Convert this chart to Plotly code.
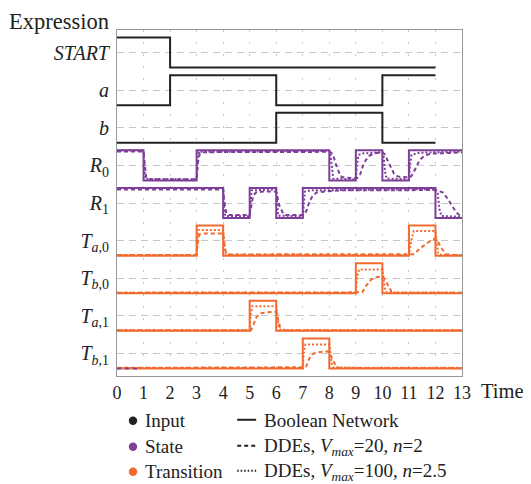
import plotly.graph_objects as go

# ---------------- data ----------------
row_labels = ["<i>T</i><sub><i>b</i>,1</sub>", "<i>T</i><sub><i>a</i>,1</sub>",
              "<i>T</i><sub><i>b</i>,0</sub>", "<i>T</i><sub><i>a</i>,0</sub>",
              "<i>R</i><sub>1</sub>", "<i>R</i><sub>0</sub>",
              "<i>b</i>", "<i>a</i>", "<i>START</i>"]
x_ticks = list(range(0, 14))

# Boolean network (step signals: change times and levels 0/1)
bool_START_t = [0, 2, 12];                 bool_START_v = [1, 0, 0]
bool_a_t = [0, 2, 6, 10, 12];              bool_a_v = [0, 1, 0, 1, 1]
bool_b_t = [0, 6, 10, 12];                 bool_b_v = [0, 1, 0, 0]
bool_R0_t = [0, 1, 3, 8, 9, 10, 11, 13];   bool_R0_v = [1, 0, 1, 0, 1, 0, 1, 1]
bool_R1_t = [0, 4, 5, 6, 7, 12, 13];       bool_R1_v = [1, 0, 1, 0, 1, 0, 0]
bool_Ta0_t = [0, 3, 4, 11, 12, 13];        bool_Ta0_v = [0, 1, 0, 1, 0, 0]
bool_Tb0_t = [0, 9, 10, 13];               bool_Tb0_v = [0, 1, 0, 0]
bool_Ta1_t = [0, 5, 6, 13];                bool_Ta1_v = [0, 1, 0, 0]
bool_Tb1_t = [0, 7, 8, 13];                bool_Tb1_v = [0, 1, 0, 0]

# DDEs, Vmax=20, n=2 (dashed)
d20_R0_t = [0, 1.0, 1.05, 1.1, 1.2, 3.0, 3.05, 3.12, 3.3, 8.0, 8.08, 8.15, 8.24, 8.33, 8.42, 8.58, 9.05,
            9.15, 9.25, 9.37, 9.52, 9.77, 10.0, 10.08, 10.17, 10.3, 10.44, 10.59, 11.05, 11.15, 11.28,
            11.4, 11.59, 11.84, 13]
d20_R0_v = [0.96, 0.96, 0.5, 0.1, 0.04, 0.04, 0.6, 0.9, 0.94, 0.95, 0.92, 0.83, 0.56, 0.31, 0.14, 0.09, 0.08,
            0.17, 0.44, 0.67, 0.83, 0.91, 0.93, 0.88, 0.72, 0.44, 0.22, 0.13, 0.1, 0.22, 0.44,
            0.67, 0.83, 0.89, 0.93]
d20_R1_t = [0, 4.0, 4.05, 4.12, 4.25, 5.0, 5.05, 5.13, 5.24, 5.5, 6.0, 6.05, 6.12, 6.24, 6.35, 7.0, 7.05,
            7.14, 7.24, 7.37, 7.52, 7.9, 8.5, 12.0, 12.1, 12.28, 12.47, 12.63, 12.78, 12.9, 13]
d20_R1_v = [0.95, 0.95, 0.5, 0.15, 0.1, 0.1, 0.35, 0.74, 0.85, 0.88, 0.88, 0.7, 0.41, 0.19, 0.1, 0.1, 0.12,
            0.24, 0.52, 0.74, 0.85, 0.89, 0.92, 0.93, 0.91, 0.85, 0.63, 0.41, 0.19, 0.1, 0.08]
d20_Ta0_t = [0, 3.0, 3.04, 3.1, 3.25, 4.0, 4.04, 4.08, 4.15, 11.1, 11.2, 11.4, 11.68, 11.84, 12.0, 12.08,
             12.2, 12.4, 12.6, 13]
d20_Ta0_v = [0.02, 0.02, 0.4, 0.7, 0.74, 0.74, 0.4, 0.18, 0.04, 0.03, 0.05, 0.23, 0.42, 0.51, 0.57, 0.5,
             0.28, 0.05, 0.02, 0.02]
d20_Tb0_t = [0, 9.15, 9.24, 9.4, 9.58, 9.77, 10.0, 10.08, 10.2, 10.34, 10.5, 13]
d20_Tb0_v = [0.02, 0.02, 0.03, 0.26, 0.46, 0.53, 0.56, 0.48, 0.26, 0.06, 0.02, 0.02]
d20_Ta1_t = [0, 5.05, 5.16, 5.26, 5.39, 5.7, 6.0, 6.08, 6.14, 6.3, 13]
d20_Ta1_v = [0.02, 0.02, 0.25, 0.47, 0.58, 0.62, 0.63, 0.36, 0.13, 0.02, 0.02]
d20_Tb1_t = [0, 7.05, 7.12, 7.24, 7.39, 7.58, 7.95, 8.02, 8.14, 8.27, 8.4, 13]
d20_Tb1_v = [0.02, 0.02, 0.04, 0.32, 0.49, 0.54, 0.57, 0.5, 0.27, 0.04, 0.02, 0.02]

# DDEs, Vmax=100, n=2.5 (dotted)
d100_R0_t = [0, 1.0, 1.04, 1.08, 3.0, 3.03, 3.07, 8.0, 8.04, 8.1, 8.15, 9.0, 9.04, 9.1, 9.3, 10.0, 10.04,
             10.1, 10.16, 11.0, 11.04, 11.1, 11.4, 13]
d100_R0_v = [1.0, 1.0, 0.3, 0.05, 0.03, 0.7, 0.95, 0.98, 0.9, 0.3, 0.06, 0.04, 0.5, 0.85, 0.9, 0.94, 0.85,
             0.3, 0.06, 0.04, 0.5, 0.85, 0.92, 0.96]
d100_R1_t = [0, 4.0, 4.04, 4.08, 5.0, 5.03, 5.07, 6.0, 6.03, 6.07, 7.0, 7.04, 7.08, 7.3, 12.0, 12.08,
             12.15, 12.22, 13]
d100_R1_v = [1.0, 1.0, 0.3, 0.07, 0.06, 0.6, 0.92, 0.95, 0.5, 0.08, 0.06, 0.6, 0.88, 0.92, 0.96, 0.85,
             0.3, 0.07, 0.04]
d100_Ta0_t = [0, 3.0, 3.03, 3.07, 4.0, 4.03, 4.08, 4.12, 11.0, 11.09, 11.18, 12.0, 12.05, 12.1, 12.16, 13]
d100_Ta0_v = [0.02, 0.02, 0.6, 0.85, 0.85, 0.5, 0.1, 0.03, 0.02, 0.5, 0.82, 0.82, 0.5, 0.1, 0.03, 0.02]
d100_Tb0_t = [0, 9.0, 9.04, 9.12, 10.0, 10.04, 10.1, 10.16, 13]
d100_Tb0_v = [0.02, 0.02, 0.5, 0.79, 0.79, 0.5, 0.1, 0.03, 0.02]
d100_Ta1_t = [0, 5.0, 5.03, 5.1, 6.0, 6.04, 6.1, 6.16, 13]
d100_Ta1_v = [0.02, 0.02, 0.5, 0.82, 0.82, 0.5, 0.1, 0.03, 0.02]
d100_Tb1_t = [0, 7.0, 7.03, 7.1, 8.0, 8.04, 8.1, 8.16, 13]
d100_Tb1_v = [0.02, 0.02, 0.5, 0.8, 0.8, 0.5, 0.1, 0.03, 0.02]

# short purple dashed remnant visible at the bottom-left
stray_t = [0, 0.85]; stray_v = [0, 0]

# ---------------- styling ----------------
BLACK = "#222222"
PURPLE = "#7E3F98"
ORANGE = "#F26A2E"
FONT = "Liberation Serif"
AMP = 0.8  # height of a 0->1 step, in row units


def lvl(row, vals):
    return [row - AMP / 2 + AMP * v for v in vals]


fig = go.Figure()

rows = {
    "START": 8, "a": 7, "b": 6, "R0": 5, "R1": 4, "Ta0": 3, "Tb0": 2, "Ta1": 1, "Tb1": 0,
}
bool_data = {
    "START": (bool_START_t, bool_START_v, BLACK), "a": (bool_a_t, bool_a_v, BLACK),
    "b": (bool_b_t, bool_b_v, BLACK), "R0": (bool_R0_t, bool_R0_v, PURPLE),
    "R1": (bool_R1_t, bool_R1_v, PURPLE), "Ta0": (bool_Ta0_t, bool_Ta0_v, ORANGE),
    "Tb0": (bool_Tb0_t, bool_Tb0_v, ORANGE), "Ta1": (bool_Ta1_t, bool_Ta1_v, ORANGE),
    "Tb1": (bool_Tb1_t, bool_Tb1_v, ORANGE),
}
d20_data = {
    "R0": (d20_R0_t, d20_R0_v, PURPLE), "R1": (d20_R1_t, d20_R1_v, PURPLE),
    "Ta0": (d20_Ta0_t, d20_Ta0_v, ORANGE), "Tb0": (d20_Tb0_t, d20_Tb0_v, ORANGE),
    "Ta1": (d20_Ta1_t, d20_Ta1_v, ORANGE), "Tb1": (d20_Tb1_t, d20_Tb1_v, ORANGE),
}
d100_data = {
    "R0": (d100_R0_t, d100_R0_v, PURPLE), "R1": (d100_R1_t, d100_R1_v, PURPLE),
    "Ta0": (d100_Ta0_t, d100_Ta0_v, ORANGE), "Tb0": (d100_Tb0_t, d100_Tb0_v, ORANGE),
    "Ta1": (d100_Ta1_t, d100_Ta1_v, ORANGE), "Tb1": (d100_Tb1_t, d100_Tb1_v, ORANGE),
}

for k, (t, v, c) in bool_data.items():
    fig.add_trace(go.Scatter(x=t, y=lvl(rows[k], v), mode="lines", line_shape="hv",
                             line=dict(color=c, width=2), showlegend=False, hoverinfo="skip"))
for k, (t, v, c) in d20_data.items():
    fig.add_trace(go.Scatter(x=t, y=lvl(rows[k], v), mode="lines",
                             line=dict(color=c, width=2, dash="4px,3px"), showlegend=False,
                             hoverinfo="skip"))
for k, (t, v, c) in d100_data.items():
    fig.add_trace(go.Scatter(x=t, y=lvl(rows[k], v), mode="lines",
                             line=dict(color=c, width=2, dash="2px,2px"), showlegend=False,
                             hoverinfo="skip"))
fig.add_trace(go.Scatter(x=stray_t, y=lvl(0, stray_v), mode="lines",
                         line=dict(color=PURPLE, width=2, dash="4px,4px"), showlegend=False,
                         hoverinfo="skip"))

# ---------------- layout ----------------
# The page body adds an 8px offset, so the figure is 8px smaller and all
# reference pixel positions are shifted by OFF.
OFF = 8
W, H = 531 - OFF, 484 - OFF
L, R, T, B = 116.7 - OFF, 462.0 - OFF, 29.5 - OFF, 375.7 - OFF


def px(xp):
    return (xp - OFF - L) / (R - L)


def py(yp):
    return (B - (yp - OFF)) / (B - T)


fig.update_layout(
    width=W, height=H,
    margin=dict(l=L, r=W - R, t=T, b=H - B, autoexpand=False),
    plot_bgcolor="white", paper_bgcolor="white",
    font=dict(family=FONT, size=19, color="#222222"),
    xaxis=dict(range=[0, 13], tickvals=x_ticks, ticktext=[str(v) for v in x_ticks],
               showgrid=True, gridcolor="#c8c8c8", griddash="2px,10px", gridwidth=1,
               showline=True, linecolor="#999999", linewidth=1, mirror=True,
               zeroline=False, ticks="", tickfont=dict(size=18, family=FONT),
               automargin=False),
    yaxis=dict(range=[-0.6, 8.6], tickvals=list(range(9)), ticktext=row_labels,
               showgrid=True, gridcolor="#c8c8c8", griddash="7px,5px", gridwidth=1,
               showline=True, linecolor="#999999", linewidth=1, mirror=True,
               zeroline=False, ticks="", tickfont=dict(size=20, family=FONT),
               ticklabelstandoff=3, automargin=False),
)

ann = []
ann.append(dict(text="Expression", x=px(7), y=py(21), xref="paper", yref="paper",
                xanchor="left", yanchor="middle", showarrow=False,
                font=dict(size=22.5, family=FONT, color="#222222")))
ann.append(dict(text="Time", x=px(479), y=py(391), xref="paper", yref="paper",
                xanchor="left", yanchor="middle", showarrow=False,
                font=dict(size=20.5, family=FONT, color="#222222")))

leg_rows = [420.5, 446.5, 471.5]
leg1 = [("Input", BLACK), ("State", PURPLE), ("Transition", ORANGE)]
leg2 = [("Boolean Network", "solid"),
        ("DDEs, <i>V</i><sub><i>max</i></sub>=20, <i>n</i>=2", "dash"),
        ("DDEs, <i>V</i><sub><i>max</i></sub>=100, <i>n</i>=2.5", "dot")]
shapes = []
for yy, (name, col) in zip(leg_rows, leg1):
    shapes.append(dict(type="circle", xref="paper", yref="paper", xsizemode="pixel",
                       ysizemode="pixel", xanchor=px(132.7), yanchor=py(yy),
                       x0=-4.2, x1=4.2, y0=-4.2, y1=4.2, fillcolor=col, line=dict(width=0)))
    ann.append(dict(text=name, x=px(143), y=py(yy), xref="paper", yref="paper",
                    xanchor="left", yanchor="middle", showarrow=False,
                    font=dict(size=19, family=FONT, color="#222222")))
for yy, (name, dsh) in zip(leg_rows, leg2):
    d = {"solid": "solid", "dash": "4px,3px", "dot": "1.5px,2px"}[dsh]
    shapes.append(dict(type="line", xref="paper", yref="paper", x0=px(237), x1=px(256),
                       y0=py(yy - 1), y1=py(yy - 1), line=dict(color=BLACK, width=2, dash=d)))
    ann.append(dict(text=name, x=px(262), y=py(yy), xref="paper", yref="paper",
                    xanchor="left", yanchor="middle", showarrow=False,
                    font=dict(size=19, family=FONT, color="#222222")))

fig.update_layout(annotations=ann, shapes=shapes)
fig.write_html("out.html")
